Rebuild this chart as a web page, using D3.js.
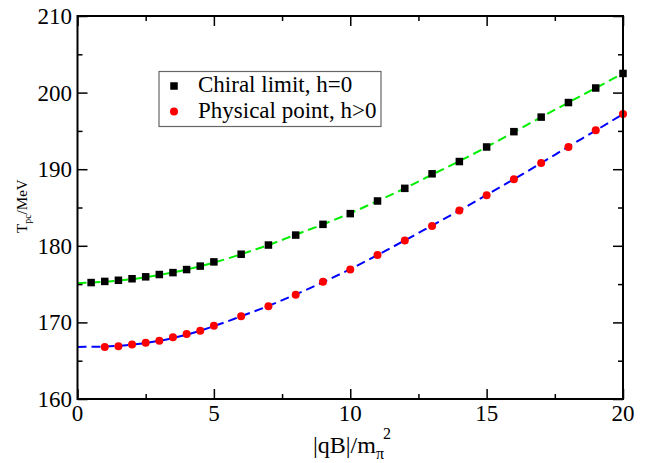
<!DOCTYPE html>
<html><head><meta charset="utf-8">
<script src="https://cdn.jsdelivr.net/npm/d3@7/dist/d3.min.js"></script>
</head>
<body style="margin:0;background:#fff">
<svg id="c" width="648" height="463"></svg>
<script>
// Data
const chiralX = [0.5,1,1.5,2,2.5,3,3.5,4,4.5,5,6,7,8,9,10,11,12,13,14,15,16,17,18,19,20];
const chiralY = [175.2,175.35,175.5,175.7,175.95,176.25,176.5,176.9,177.35,177.9,178.9,180.1,181.4,182.8,184.2,185.85,187.5,189.4,191.0,192.9,194.9,196.8,198.7,200.6,202.5];
const physX = [1,1.5,2,2.5,3,3.5,4,4.5,5,6,7,8,9,10,11,12,13,14,15,16,17,18,19,20];
const physY = [166.8,166.9,167.1,167.35,167.6,168.05,168.5,168.9,169.55,170.8,172.1,173.6,175.3,176.9,178.8,180.7,182.6,184.6,186.6,188.7,190.8,192.9,195.1,197.2];
const fitX = [0,1,2,3,4,5,6,7,8,9,10,11,12,13,14,15,16,17,18,19,20];
const fitChiral = [175.15,175.3,175.65,176.2,176.9,177.8,178.9,180.1,181.45,182.8,184.25,185.85,187.5,189.3,191.05,192.9,194.85,196.8,198.7,200.6,202.5];
const fitPhys = [166.8,166.85,167.1,167.6,168.4,169.5,170.8,172.15,173.65,175.25,176.95,178.8,180.7,182.65,184.6,186.65,188.7,190.8,192.95,195.05,197.2];
const xTicks = [0,5,10,15,20];
const xMinor = [2.5,7.5,12.5,17.5];
const yTicks = [160,170,180,190,200,210];
const yMinor = [165,175,185,195,205];
const legendLabels = ["Chiral limit, h=0","Physical point, h>0"];

const FONT = "'Liberation Serif'";
const svg = d3.select("#c");
const L = 77.5, R = 623, T = 16, B = 399;
const x = d3.scaleLinear().domain([0,20]).range([L,R]);
const y = d3.scaleLinear().domain([160,210]).range([B,T]);

// fit lines
const line = d3.line().curve(d3.curveMonotoneX).x(d=>x(d[0])).y(d=>y(d[1]));
svg.append("path").datum(fitX.map((v,i)=>[v,fitChiral[i]]))
  .attr("d",line).attr("fill","none").attr("stroke","#00ee00").attr("stroke-width",2).attr("stroke-dasharray","9,5");
svg.append("path").datum(fitX.map((v,i)=>[v,fitPhys[i]]))
  .attr("d",line).attr("fill","none").attr("stroke","#0000ff").attr("stroke-width",2).attr("stroke-dasharray","9,5");

// markers
const sq = 7.5;
svg.append("g").selectAll("rect").data(chiralX.map((v,i)=>[v,chiralY[i]])).join("rect")
  .attr("x",d=>x(d[0])-sq/2).attr("y",d=>y(d[1])-sq/2).attr("width",sq).attr("height",sq).attr("fill","#000");
svg.append("g").selectAll("circle").data(physX.map((v,i)=>[v,physY[i]])).join("circle")
  .attr("cx",d=>x(d[0])).attr("cy",d=>y(d[1])).attr("r",4).attr("fill","#ff0000");

// axes (ticks inward on all sides)
function ax(gen, tr, vals, len){
  svg.append("g").attr("transform",tr).call(gen.tickValues(vals).tickSize(len).tickFormat(""))
    .call(g=>g.select(".domain").remove())
    .call(g=>g.selectAll("line").attr("stroke","#000").attr("stroke-width",1.5));
}
ax(d3.axisTop(x), `translate(0,${B})`, xTicks, 10);
ax(d3.axisTop(x), `translate(0,${B})`, xMinor, 5);
ax(d3.axisBottom(x), `translate(0,${T})`, xTicks, 10);
ax(d3.axisBottom(x), `translate(0,${T})`, xMinor, 5);
ax(d3.axisRight(y), `translate(${L},0)`, yTicks, 10);
ax(d3.axisRight(y), `translate(${L},0)`, yMinor, 5);
ax(d3.axisLeft(y), `translate(${R},0)`, yTicks, 10);
ax(d3.axisLeft(y), `translate(${R},0)`, yMinor, 5);

svg.append("rect").attr("x",L).attr("y",T).attr("width",R-L).attr("height",B-T)
  .attr("fill","none").attr("stroke","#000").attr("stroke-width",2);

// tick labels
const labels = svg.append("g");
xTicks.forEach(d=>{
  labels.append("text").style("font-family",FONT).attr("font-size",23)
    .attr("x",x(d)).attr("y",421).attr("text-anchor","middle").text(d);
});
yTicks.forEach(d=>{
  labels.append("text").style("font-family",FONT).attr("font-size",23)
    .attr("x",72).attr("y",y(d)+8).attr("text-anchor","end").text(d);
});

// axis titles
const xt = svg.append("text").style("font-family",FONT).attr("x",313).attr("y",453).attr("font-size",24);
xt.append("tspan").text("|qB|/m");
xt.append("tspan").attr("font-size",16).attr("dy",6).text("π");
xt.append("tspan").attr("font-size",16).attr("dx",-1).attr("dy",-20).text("2");

const yt = svg.append("text").style("font-family",FONT).attr("transform","translate(27,233) rotate(-90)").attr("font-size",15);
yt.append("tspan").text("T");
yt.append("tspan").attr("font-size",10).attr("dy",4).text("pc");
yt.append("tspan").attr("dy",-4).text("/MeV");

// legend
svg.append("rect").attr("x",159).attr("y",71.5).attr("width",222).attr("height",55)
  .attr("fill","#fff").attr("stroke","#666").attr("stroke-width",1.2);
svg.append("rect").attr("x",174-sq/2).attr("y",86-sq/2).attr("width",sq).attr("height",sq).attr("fill","#000");
svg.append("circle").attr("cx",174).attr("cy",111.5).attr("r",4).attr("fill","#ff0000");
svg.append("text").style("font-family",FONT).attr("x",198).attr("y",92).attr("font-size",23).text(legendLabels[0]);
svg.append("text").style("font-family",FONT).attr("x",198).attr("y",118).attr("font-size",23).text(legendLabels[1]);
</script>
</body></html>
